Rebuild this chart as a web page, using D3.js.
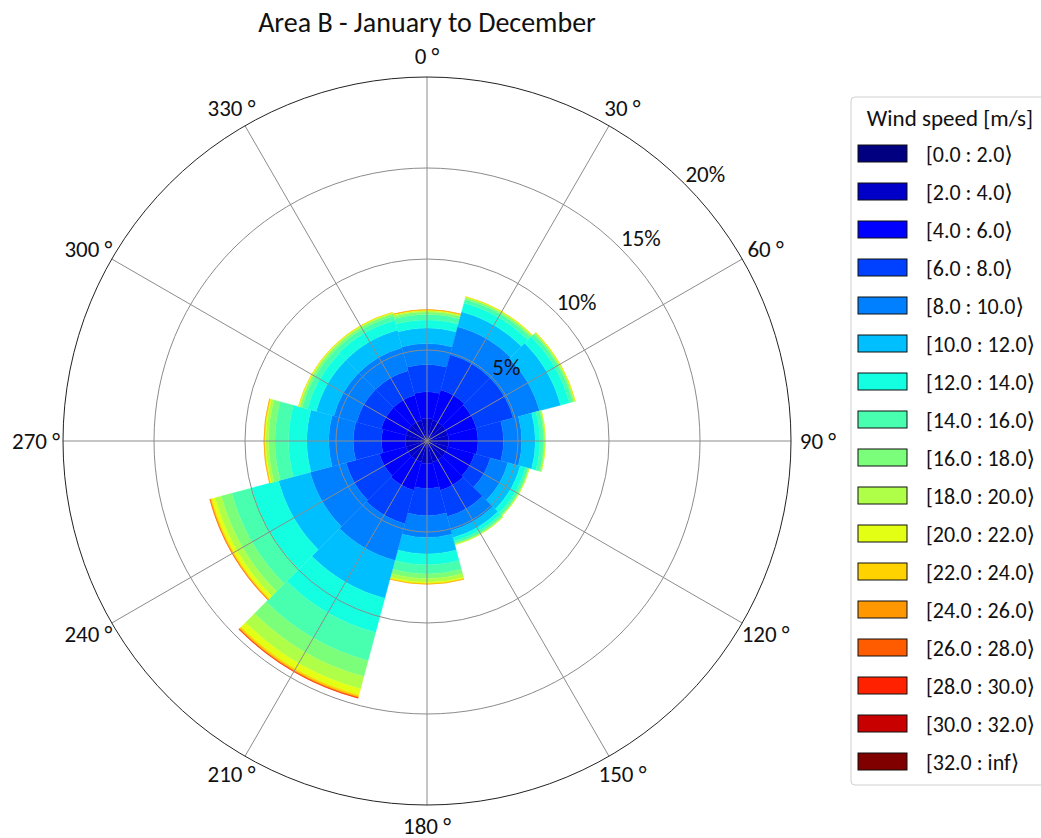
<!DOCTYPE html>
<html>
<head>
<meta charset="utf-8">
<script src="https://cdnjs.cloudflare.com/ajax/libs/d3/7.8.5/d3.min.js"></script>
<style>
  body { margin: 0; background: #fff; }
  svg { font-family: Carlito, Lato, "DejaVu Sans", sans-serif; }
</style>
</head>
<body>
<div id="chart"></div>
<script>
// Sector centres (degrees, clockwise from north)
const directions = [0, 30, 60, 90, 120, 150, 180, 210, 240, 270, 300, 330];

// Wind speed classes
const speedBins = [
    "[0.0 : 2.0\u27E9", "[2.0 : 4.0\u27E9", "[4.0 : 6.0\u27E9", "[6.0 : 8.0\u27E9",
    "[8.0 : 10.0\u27E9", "[10.0 : 12.0\u27E9", "[12.0 : 14.0\u27E9", "[14.0 : 16.0\u27E9",
    "[16.0 : 18.0\u27E9", "[18.0 : 20.0\u27E9", "[20.0 : 22.0\u27E9", "[22.0 : 24.0\u27E9",
    "[24.0 : 26.0\u27E9", "[26.0 : 28.0\u27E9", "[28.0 : 30.0\u27E9", "[30.0 : 32.0\u27E9",
    "[32.0 : inf\u27E9"
];

// jet colours, one per speed class
const binColors = [
    "#000080", "#0000c8", "#0000ff", "#0040ff", "#0080ff", "#00bfff",
    "#14ffe2", "#48ffaf", "#7bff7b", "#afff48", "#e2ff14", "#ffd200",
    "#ff9700", "#ff5c00", "#ff2100", "#c80000", "#800000"
];

const radialTicks = [5, 10, 15, 20];
const angleTicks = [0, 30, 60, 90, 120, 150, 180, 210, 240, 270, 300, 330];

// Frequency (%) per direction (rows, same order as directions) and speed class (columns)
const frequencies = [
    [0.25, 1.00, 1.45, 1.50, 1.15, 0.85, 0.45, 0.30, 0.13, 0.07, 0.04, 0.02, 0.01, 0, 0, 0, 0], // 0
    [0.25, 0.95, 1.70, 2.00, 1.60, 0.85, 0.50, 0.20, 0.10, 0.04, 0.02, 0.01, 0, 0, 0, 0, 0],    // 30
    [0.25, 0.95, 1.60, 2.10, 1.50, 1.20, 0.50, 0.20, 0.08, 0.04, 0.02, 0.01, 0, 0, 0, 0, 0],    // 60
    [0.25, 0.95, 1.60, 1.40, 1.00, 0.75, 0.25, 0.20, 0.07, 0.03, 0.01, 0, 0, 0, 0, 0, 0],       // 90
    [0.25, 0.95, 1.50, 0.90, 1.00, 0.70, 0.30, 0.15, 0.05, 0.02, 0.01, 0, 0, 0, 0, 0, 0],       // 120
    [0.25, 0.95, 1.60, 1.50, 0.80, 0.40, 0.20, 0.12, 0.06, 0.02, 0.01, 0, 0, 0, 0, 0, 0],       // 150
    [0.25, 1.00, 1.35, 1.50, 1.20, 0.90, 0.60, 0.50, 0.25, 0.20, 0.08, 0.03, 0.01, 0, 0, 0, 0], // 180
    [0.25, 0.95, 1.60, 1.90, 2.10, 2.15, 1.95, 1.60, 0.90, 0.70, 0.35, 0.10, 0.05, 0.02, 0.01, 0, 0], // 210
    [0.25, 0.95, 1.50, 1.90, 2.05, 1.80, 1.52, 1.13, 0.60, 0.35, 0.20, 0.07, 0.03, 0.01, 0, 0, 0], // 240
    [0.30, 0.90, 1.30, 1.55, 1.35, 1.20, 1.00, 0.75, 0.35, 0.15, 0.07, 0.03, 0.01, 0, 0, 0, 0], // 270
    [0.25, 0.95, 1.40, 1.40, 1.30, 1.00, 0.50, 0.30, 0.12, 0.06, 0.03, 0.01, 0, 0, 0, 0, 0],    // 300
    [0.25, 0.95, 1.40, 1.40, 1.30, 1.00, 0.55, 0.25, 0.12, 0.06, 0.03, 0.01, 0, 0, 0, 0, 0]     // 330
];

function renderWindRose(container) {
    const width = 1041;
    const height = 838;
    const cx = 427;
    const cy = 441;
    const outerRadius = 364;
    const sectorWidth = 30;

    const svg = d3.select(container)
        .append("svg")
        .attr("width", width)
        .attr("height", height);

    const r = d3.scaleLinear().domain([0, 20]).range([0, outerRadius]);
    const toRad = deg => deg * Math.PI / 180;

    const plot = svg.append("g")
        .attr("transform", `translate(${cx},${cy})`);

    // Build stacked wedges
    const wedges = [];
    directions.forEach((dir, i) => {
        let cum = 0;
        frequencies[i].forEach((v, j) => {
            if (v > 0) {
                wedges.push({
                    dir: dir,
                    bin: j,
                    inner: cum,
                    outer: cum + v
                });
            }
            cum += v;
        });
    });

    const arc = d3.arc()
        .innerRadius(d => r(d.inner))
        .outerRadius(d => r(d.outer))
        .startAngle(d => toRad(d.dir - sectorWidth / 2))
        .endAngle(d => toRad(d.dir + sectorWidth / 2));

    plot.append("g")
        .selectAll("path")
        .data(wedges)
        .join("path")
        .attr("d", arc)
        .attr("fill", d => binColors[d.bin])
        .attr("stroke", d => binColors[d.bin])
        .attr("stroke-width", 0.3);

    // Grid: circles and spokes on top of bars
    const grid = plot.append("g");
    grid.selectAll("circle.ring")
        .data(radialTicks.slice(0, -1))
        .join("circle")
        .attr("class", "ring")
        .attr("r", d => r(d))
        .attr("fill", "none")
        .attr("stroke", "#8c8c8c")
        .attr("stroke-width", 1);

    grid.selectAll("line")
        .data(angleTicks)
        .join("line")
        .attr("x1", 0)
        .attr("y1", 0)
        .attr("x2", d => outerRadius * Math.sin(toRad(d)))
        .attr("y2", d => -outerRadius * Math.cos(toRad(d)))
        .attr("stroke", "#8c8c8c")
        .attr("stroke-width", 1);

    grid.append("circle")
        .attr("r", outerRadius)
        .attr("fill", "none")
        .attr("stroke", "#222")
        .attr("stroke-width", 1);

    // Angle labels
    plot.append("g")
        .selectAll("text")
        .data(angleTicks)
        .join("text")
        .attr("x", d => 391 * Math.sin(toRad(d)))
        .attr("y", d => -385 * Math.cos(toRad(d)))
        .attr("text-anchor", "middle")
        .attr("dominant-baseline", "central")
        .attr("font-size", 23)
        .attr("fill", "#111")
        .text(d => `${d} \u00B0`);

    // Radial labels along 45 degrees
    plot.append("g")
        .selectAll("text")
        .data(radialTicks)
        .join("text")
        .attr("x", d => r(d) * Math.sin(toRad(45)) + 1)
        .attr("y", d => -r(d) * Math.cos(toRad(45)) - 2)
        .attr("font-size", 23)
        .attr("fill", "#111")
        .text(d => `${d}%`);

    // Title
    svg.append("text")
        .attr("x", cx)
        .attr("y", 32)
        .attr("text-anchor", "middle")
        .attr("font-size", 28)
        .attr("fill", "#111")
        .text("Area B - January to December");

    // Legend
    const legend = svg.append("g");
    legend.append("rect")
        .attr("x", 851)
        .attr("y", 97)
        .attr("width", 220)
        .attr("height", 688)
        .attr("rx", 4)
        .attr("fill", "#fff")
        .attr("stroke", "#d0d0d0");

    legend.append("text")
        .attr("x", 950)
        .attr("y", 126)
        .attr("text-anchor", "middle")
        .attr("font-size", 23)
        .attr("fill", "#111")
        .text("Wind speed [m/s]");

    const items = legend.selectAll("g.item")
        .data(speedBins)
        .join("g")
        .attr("class", "item")
        .attr("transform", (d, i) => `translate(0,${145 + i * 38})`);

    items.append("rect")
        .attr("x", 858)
        .attr("y", 0)
        .attr("width", 49)
        .attr("height", 17)
        .attr("fill", (d, i) => binColors[i])
        .attr("stroke", "#111")
        .attr("stroke-width", 1);

    items.append("text")
        .attr("x", 926)
        .attr("y", 16.5)
        .attr("font-size", 22)
        .attr("fill", "#111")
        .text(d => d);
}

renderWindRose(document.getElementById("chart"));
</script>
</body>
</html>
